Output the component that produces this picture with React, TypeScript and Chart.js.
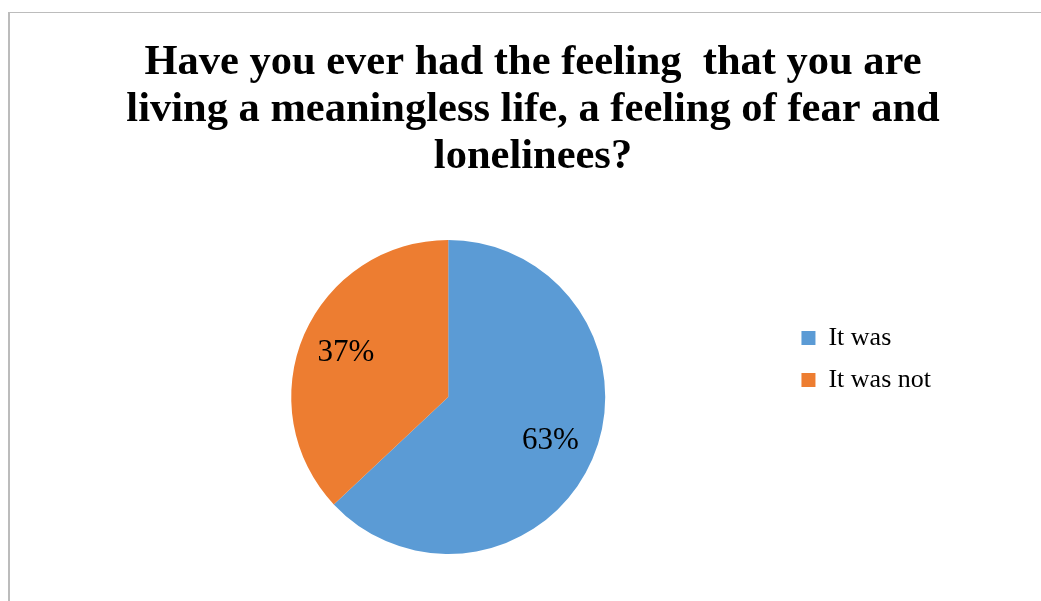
import { useEffect, useRef } from 'react';
import { Chart, registerables } from 'chart.js';

Chart.register(...registerables);

const categories: string[] = ['It was', 'It was not'];
const values: number[] = [63, 37];
const sliceColors: string[] = ['#5B9BD5', '#ED7D31'];
const titleLines: string[] = [
  'Have you ever had the feeling  that you are',
  'living a meaningless life, a feeling of fear and',
  'lonelinees?',
];

const SERIF = '"Liberation Serif", "Times New Roman", serif';

const titleShift = {
  id: 'titleShift',
  afterLayout(chart: any) {
    const tb = chart.titleBlock;
    if (tb) {
      tb.left += 7;
      tb.right += 7;
    }
  },
};

const pctLabels = {
  id: 'pctLabels',
  afterDatasetsDraw(chart: any) {
    const ctx = chart.ctx as CanvasRenderingContext2D;
    const meta = chart.getDatasetMeta(0);
    const data = chart.data.datasets[0].data as number[];
    const total = data.reduce((a, b) => a + b, 0);
    ctx.save();
    ctx.font = `31px ${SERIF}`;
    ctx.fillStyle = '#000000';
    ctx.textAlign = 'center';
    ctx.textBaseline = 'middle';
    meta.data.forEach((arc: any, i: number) => {
      const p = arc.getProps(['x', 'y', 'startAngle', 'endAngle', 'outerRadius'], true);
      const mid = (p.startAngle + p.endAngle) / 2;
      const r = p.outerRadius * 0.71;
      ctx.fillText(
        Math.round((data[i] / total) * 100) + '%',
        p.x + Math.cos(mid) * r,
        p.y + Math.sin(mid) * r
      );
    });
    ctx.restore();
  },
};

export default function App() {
  const canvasRef = useRef<HTMLCanvasElement | null>(null);

  useEffect(() => {
    const canvas = canvasRef.current;
    if (!canvas) return;
    const chart = new Chart(canvas, {
      type: 'pie',
      data: {
        labels: categories,
        datasets: [
          {
            data: values,
            backgroundColor: sliceColors,
            borderWidth: 0,
            radius: 157,
          } as any,
        ],
      },
      options: {
        responsive: false,
        animation: false,
        events: [],
        layout: { padding: { left: 111, right: 100, top: 0, bottom: 0 } },
        plugins: {
          tooltip: { enabled: false },
          title: {
            display: true,
            text: titleLines,
            color: '#000000',
            font: { family: SERIF, size: 42.5, weight: 'bold', lineHeight: 1.105 },
            padding: { top: 40, bottom: 12 },
          },
          legend: {
            display: true,
            position: 'right',
            align: 'center',
            title: {
              display: true,
              text: '',
              font: { size: 10, lineHeight: 1 },
              padding: { top: 107, bottom: 0 },
            },
            labels: {
              color: '#000000',
              font: { family: SERIF, size: 26 },
              boxWidth: 14,
              boxHeight: 14,
              padding: 16,
            },
          },
        },
      },
      plugins: [titleShift, pctLabels],
    });
    return () => chart.destroy();
  }, []);

  return (
    <div
      style={{
        position: 'fixed',
        left: 0,
        top: 0,
        width: 1041,
        height: 601,
        overflow: 'hidden',
        background: '#ffffff',
      }}
    >
      <div
        style={{
          position: 'absolute',
          left: 8,
          top: 12,
          width: 1100,
          height: 700,
          borderTop: '1px solid #bcbcbc',
          borderLeft: '2px solid #bcbcbc',
          boxSizing: 'border-box',
        }}
      />
      <canvas
        ref={canvasRef}
        width={1041}
        height={601}
        style={{ position: 'absolute', left: 0, top: 0, width: 1041, height: 601 }}
      />
    </div>
  );
}
